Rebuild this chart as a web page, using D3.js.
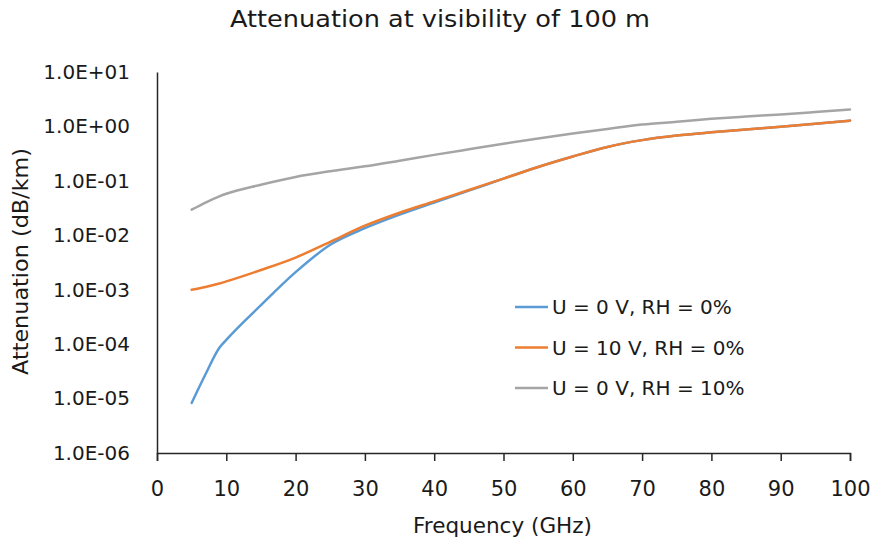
<!DOCTYPE html>
<html>
<head>
<meta charset="utf-8">
<script src="https://cdn.jsdelivr.net/npm/d3@7"></script>
<style>
  body { margin: 0; background: #fff; }
  svg text { font-family: "DejaVu Sans", sans-serif; fill: #1a1a1a; }
</style>
</head>
<body>
<svg id="chart" width="873" height="540"></svg>
<script>
// Frequency grid (GHz)
const frequency = [5, 7, 9, 10, 15, 20, 25, 30, 35, 40, 45, 50, 55, 60, 65, 70, 75, 80, 85, 90, 95, 100];

// Attenuation (dB/km) for each scenario
const attenU0RH0 = [8.3e-6, 2.8e-5, 8.6e-5, 1.2e-4, 5.2e-4, 2.1e-3, 6.7e-3, 1.35e-2, 2.4e-2, 4.0e-2, 6.6e-2,
                    0.11, 0.18, 0.28, 0.42, 0.56, 0.68, 0.78, 0.88, 0.99, 1.12, 1.28];
const attenU10RH0 = [1.0e-3, 1.12e-3, 1.3e-3, 1.42e-3, 2.3e-3, 3.9e-3, 7.6e-3, 1.5e-2, 2.6e-2, 4.2e-2, 6.8e-2,
                     0.11, 0.18, 0.28, 0.42, 0.56, 0.68, 0.78, 0.88, 0.99, 1.12, 1.28];
const attenU0RH10 = [0.0295, 0.040, 0.052, 0.058, 0.085, 0.118, 0.15, 0.185, 0.235, 0.30, 0.38,
                     0.48, 0.60, 0.74, 0.90, 1.08, 1.22, 1.38, 1.52, 1.66, 1.84, 2.05];

const seriesNames = ["U = 0 V, RH = 0%", "U = 10 V, RH = 0%", "U = 0 V, RH = 10%"];
const seriesColors = ["#5b9bd5", "#ed7d31", "#a5a5a5"];

const xTicks = [0, 10, 20, 30, 40, 50, 60, 70, 80, 90, 100];
const yTicks = [1e1, 1e0, 1e-1, 1e-2, 1e-3, 1e-4, 1e-5, 1e-6];
const yTickLabels = ["1.0E+01", "1.0E+00", "1.0E-01", "1.0E-02", "1.0E-03", "1.0E-04", "1.0E-05", "1.0E-06"];

const series = [attenU0RH0, attenU10RH0, attenU0RH10].map((vals, i) => ({
  name: seriesNames[i],
  color: seriesColors[i],
  points: frequency.map((f, j) => ({ f, v: vals[j] }))
}));

const svg = d3.select("#chart");
const plotLeft = 157, plotRight = 850, plotTop = 72, plotBottom = 453;

const x = d3.scaleLinear().domain([0, 100]).range([plotLeft, plotRight]);
const y = d3.scaleLog().domain([1e-6, 1e1]).range([plotBottom, plotTop]);

// Title
svg.append("text")
  .attr("x", 440).attr("y", 27)
  .attr("text-anchor", "middle")
  .attr("textLength", 420)
  .attr("lengthAdjust", "spacingAndGlyphs")
  .style("font-size", "23px")
  .text("Attenuation at visibility of 100 m");

// X axis
const xAxis = svg.append("g")
  .attr("transform", `translate(0,${plotBottom})`)
  .call(d3.axisBottom(x).tickValues(xTicks).tickSize(8).tickPadding(20).tickFormat(d3.format("d")));
xAxis.select(".domain").attr("stroke", "#262626").attr("stroke-width", 1.5);
xAxis.selectAll(".tick line").attr("stroke", "#262626").attr("stroke-width", 1.5);
xAxis.selectAll(".tick text").style("font-size", "21px").attr("fill", "#1a1a1a");

// Y axis (no tick marks)
const yAxis = svg.append("g")
  .attr("transform", `translate(${plotLeft},0)`)
  .call(d3.axisLeft(y).tickValues(yTicks).tickSize(0).tickPadding(27)
    .tickFormat((d, i) => yTickLabels[i]));
yAxis.select(".domain").attr("stroke", "#262626").attr("stroke-width", 1.5);
yAxis.selectAll(".tick text").style("font-size", "20px").attr("fill", "#1a1a1a");

// Axis titles
svg.append("text")
  .attr("x", 502.5).attr("y", 533)
  .attr("text-anchor", "middle")
  .attr("textLength", 179)
  .attr("lengthAdjust", "spacingAndGlyphs")
  .style("font-size", "21px")
  .text("Frequency (GHz)");

svg.append("text")
  .attr("transform", "translate(28,261.5) rotate(-90)")
  .attr("text-anchor", "middle")
  .attr("textLength", 227)
  .attr("lengthAdjust", "spacingAndGlyphs")
  .style("font-size", "21px")
  .text("Attenuation (dB/km)");

// Series lines
const line = d3.line()
  .x(d => x(d.f))
  .y(d => y(d.v))
  .curve(d3.curveMonotoneX);

svg.append("g").selectAll("path")
  .data(series)
  .join("path")
  .attr("fill", "none")
  .attr("stroke", d => d.color)
  .attr("stroke-width", 2.5)
  .attr("stroke-linejoin", "round")
  .attr("stroke-linecap", "round")
  .attr("d", d => line(d.points));

// Legend
const legend = svg.append("g");
series.forEach((s, i) => {
  const ly = 307 + i * 40.5;
  legend.append("line")
    .attr("x1", 515).attr("x2", 548)
    .attr("y1", ly).attr("y2", ly)
    .attr("stroke", s.color).attr("stroke-width", 2.5);
  legend.append("text")
    .attr("x", 552).attr("y", ly)
    .attr("dy", "0.36em")
    .style("font-size", "20px")
    .text(s.name);
});
</script>
</body>
</html>
